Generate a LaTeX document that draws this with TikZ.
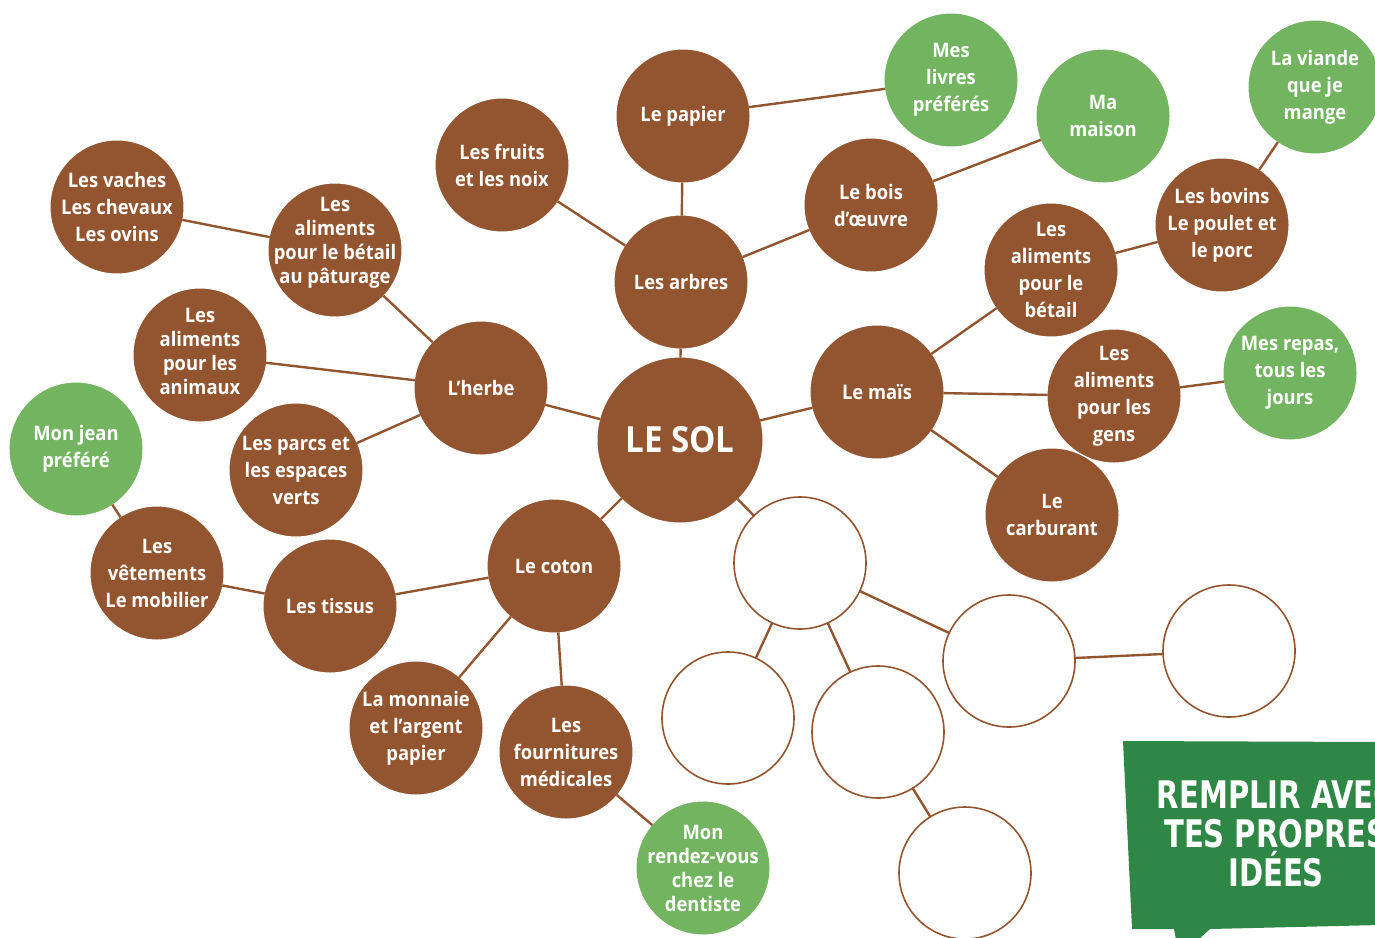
\documentclass[tikz,border=0pt]{standalone}
\usepackage{fontspec}
\setmainfont{Open Sans}[FakeStretch=0.92]
\newfontfamily\bannerfont{DejaVu Sans Condensed}
\definecolor{soilbrown}{HTML}{93552F}
\definecolor{leafgreen}{HTML}{73B461}
\definecolor{bannergreen}{HTML}{2E8744}
\begin{document}
\begin{tikzpicture}[x=1pt,y=-1pt,
  link/.style={draw=soilbrown,line width=2.4pt},
  bnode/.style={circle,fill=soilbrown,draw=white,line width=1pt,minimum size=134pt,inner sep=-20pt,text=white,align=center,font=\fontsize{20}{27}\selectfont\bfseries},
  gnode/.style={bnode,fill=leafgreen},
  tight/.style={font=\fontsize{20}{24}\selectfont\bfseries},
  enode/.style={circle,fill=white,draw=soilbrown,line width=1.6pt,minimum size=132pt,inner sep=0pt}]
\useasboundingbox (0,0) rectangle (1375,937);
% nodes
\node[bnode,minimum size=166pt,font=\fontsize{36}{40}\selectfont\bfseries] (sol) at (680,440) {LE SOL};
\node[bnode] (arbres) at (681,282) {Les arbres};
\node[bnode] (papier) at (683,116) {Le papier};
\node[bnode] (fruits) at (502,165) {Les fruits\\et les noix};
\node[bnode] (bois) at (871,205) {Le bois\\d’œuvre};
\node[gnode] (livres) at (951,80) {Mes\\livres\\préférés};
\node[gnode] (maison) at (1103,116) {Ma\\maison};
\node[bnode] (herbe) at (481,388) {L’herbe};
\node[bnode,tight] (paturage) at (335,250) {\parbox{130pt}{\centering Les\\aliments\\pour le bétail\\au pâturage\par\vspace{14pt}}};
\node[bnode] (vaches) at (117,207) {Les vaches\\Les chevaux\\Les ovins};
\node[bnode,tight] (animaux) at (200,355) {\parbox{130pt}{\centering Les\\aliments\\pour les\\animaux\par\vspace{8pt}}};
\node[bnode] (parcs) at (296,470) {Les parcs et\\les espaces\\verts};
\node[bnode] (mais) at (877,392) {Le maïs};
\node[bnode] (betail) at (1051,270) {Les\\aliments\\pour le\\bétail};
\node[bnode] (bovins) at (1222,225) {Les bovins\\Le poulet et\\le porc};
\node[gnode] (viande) at (1315,87) {La viande\\que je\\mange};
\node[bnode] (gens) at (1114,396) {Les\\aliments\\pour les\\gens};
\node[gnode] (repas) at (1290,373) {Mes repas,\\tous les\\jours};
\node[bnode] (carburant) at (1052,515) {Le\\carburant};
\node[bnode] (coton) at (554,566) {Le coton};
\node[bnode] (tissus) at (330,606) {Les tissus};
\node[bnode] (vetements) at (157,573) {Les\\vêtements\\Le mobilier};
\node[gnode] (jean) at (76,449) {Mon jean\\préféré};
\node[bnode] (monnaie) at (416,728) {La monnaie\\et l’argent\\papier};
\node[bnode] (fournitures) at (566,752) {Les\\fournitures\\médicales};
\node[gnode,tight] (dentiste) at (703,868) {Mon\\rendez-vous\\chez le\\dentiste};
\node[enode] (e1) at (800,563) {};
\node[enode] (e2) at (728,718) {};
\node[enode] (e3) at (878,732) {};
\node[enode] (e4) at (1009,661) {};
\node[enode] (e5) at (1229,651) {};
\node[enode] (e6) at (965,873) {};
% links
\foreach \a/\b in {sol/arbres,arbres/papier,papier/livres,arbres/fruits,arbres/bois,bois/maison,
  sol/herbe,herbe/paturage,paturage/vaches,herbe/animaux,herbe/parcs,
  sol/mais,mais/betail,betail/bovins,bovins/viande,mais/gens,gens/repas,mais/carburant,
  sol/coton,coton/tissus,tissus/vetements,vetements/jean,coton/monnaie,coton/fournitures,fournitures/dentiste,
  sol/e1,e1/e2,e1/e3,e1/e4,e4/e5,e3/e6}
  \draw[link,shorten <=-1pt,shorten >=-1pt] (\a) -- (\b);
% banner
\fill[bannergreen] (1123,741) -- (1380,742) -- (1380,925) -- (1210,929) -- (1198,940) -- (1176,940) -- (1174,929) -- (1132,929) -- cycle;
\node[text=white,font=\bannerfont\bfseries\fontsize{38}{39}\selectfont,align=center,xscale=0.85,inner sep=0pt] (banner) at (1276,834) {REMPLIR AVEC\\TES PROPRES\\IDÉES};
\end{tikzpicture}
\end{document}
